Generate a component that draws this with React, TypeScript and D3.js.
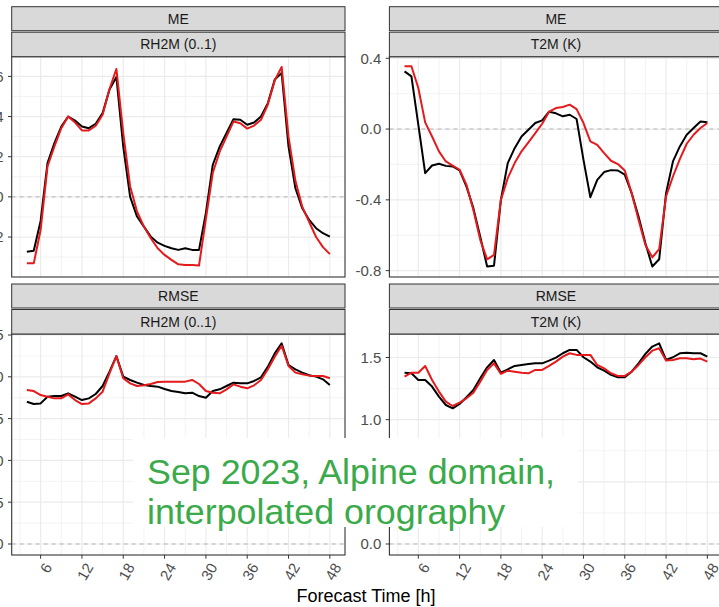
import React from 'react';
import * as d3 from 'd3';

const hours = [4, 5, 6, 7, 8, 9, 10, 11, 12, 13, 14, 15, 16, 17, 18, 19, 20, 21, 22, 23, 24, 25, 26, 27, 28, 29, 30, 31, 32, 33, 34, 35, 36, 37, 38, 39, 40, 41, 42, 43, 44, 45, 46, 47, 48];

const meRhBlack = [-0.0273, -0.0268, -0.012, 0.0168, 0.0268, 0.035, 0.04, 0.038, 0.035, 0.0342, 0.0364, 0.0417, 0.0534, 0.0597, 0.025, 0.0, -0.0098, -0.0148, -0.0198, -0.0228, -0.0244, -0.0256, -0.0264, -0.0256, -0.0264, -0.0264, -0.008, 0.016, 0.025, 0.0318, 0.0387, 0.0384, 0.0359, 0.037, 0.04, 0.0467, 0.0584, 0.0617, 0.025, 0.0043, -0.0057, -0.0115, -0.0156, -0.0181, -0.0198];
const meRhRed = [-0.0331, -0.0331, -0.0165, 0.0151, 0.0251, 0.0342, 0.04, 0.037, 0.0331, 0.0331, 0.0354, 0.0409, 0.0537, 0.0637, 0.0318, 0.0052, -0.0073, -0.0148, -0.0206, -0.0256, -0.0289, -0.0314, -0.0336, -0.0339, -0.0339, -0.0342, -0.011, 0.012, 0.0225, 0.03, 0.0375, 0.0367, 0.034, 0.0355, 0.0384, 0.046, 0.058, 0.0647, 0.03, 0.008, -0.005, -0.0125, -0.02, -0.025, -0.0285];

const meT2Black = [0.326, 0.298, 0.025, -0.249, -0.206, -0.196, -0.208, -0.211, -0.234, -0.325, -0.447, -0.608, -0.777, -0.772, -0.4, -0.192, -0.108, -0.042, -0.004, 0.034, 0.049, 0.098, 0.089, 0.072, 0.081, 0.057, -0.174, -0.385, -0.287, -0.243, -0.232, -0.234, -0.258, -0.362, -0.494, -0.645, -0.777, -0.736, -0.362, -0.183, -0.098, -0.032, 0.006, 0.043, 0.038];
const meT2Red = [0.355, 0.355, 0.232, 0.038, -0.042, -0.126, -0.183, -0.206, -0.23, -0.315, -0.457, -0.626, -0.736, -0.711, -0.4, -0.277, -0.192, -0.126, -0.075, -0.023, 0.03, 0.098, 0.119, 0.125, 0.138, 0.113, 0.034, -0.07, -0.089, -0.136, -0.179, -0.198, -0.234, -0.362, -0.513, -0.655, -0.725, -0.679, -0.381, -0.268, -0.17, -0.083, -0.032, 0.006, 0.034];

const rmseRhBlack = [0.0851, 0.0837, 0.0841, 0.0881, 0.0885, 0.0885, 0.0901, 0.0881, 0.0861, 0.0871, 0.0897, 0.0945, 0.1031, 0.1124, 0.1001, 0.0981, 0.0965, 0.0951, 0.0945, 0.0941, 0.0927, 0.0915, 0.0909, 0.0901, 0.0905, 0.0885, 0.0875, 0.0915, 0.0925, 0.0945, 0.0965, 0.0961, 0.0961, 0.0975, 0.0997, 0.1061, 0.114, 0.12, 0.107, 0.1045, 0.1025, 0.1009, 0.1001, 0.0985, 0.0951];
const rmseRhRed = [0.0921, 0.0915, 0.0891, 0.0881, 0.0871, 0.0871, 0.0895, 0.0861, 0.0837, 0.0841, 0.0871, 0.0911, 0.1021, 0.1124, 0.0991, 0.0961, 0.0945, 0.0949, 0.0957, 0.0969, 0.0971, 0.0971, 0.0971, 0.0971, 0.0981, 0.0957, 0.0915, 0.0905, 0.0901, 0.0925, 0.0955, 0.0941, 0.0931, 0.0949, 0.0981, 0.1045, 0.112, 0.1186, 0.1065, 0.1025, 0.1015, 0.1007, 0.1005, 0.1005, 0.0991];

const rmseT2Black = [1.378, 1.373, 1.319, 1.319, 1.266, 1.185, 1.118, 1.091, 1.126, 1.18, 1.239, 1.333, 1.421, 1.48, 1.378, 1.405, 1.432, 1.44, 1.448, 1.453, 1.453, 1.475, 1.499, 1.534, 1.561, 1.561, 1.502, 1.467, 1.421, 1.394, 1.36, 1.341, 1.341, 1.386, 1.453, 1.529, 1.588, 1.614, 1.48, 1.502, 1.534, 1.539, 1.534, 1.534, 1.507];
const rmseT2Red = [1.346, 1.378, 1.378, 1.432, 1.319, 1.226, 1.145, 1.11, 1.137, 1.172, 1.217, 1.306, 1.4, 1.453, 1.368, 1.394, 1.386, 1.378, 1.373, 1.4, 1.4, 1.432, 1.467, 1.507, 1.534, 1.521, 1.521, 1.521, 1.44, 1.413, 1.373, 1.352, 1.352, 1.386, 1.44, 1.502, 1.555, 1.574, 1.475, 1.48, 1.494, 1.494, 1.486, 1.491, 1.467];

const xMajor = [6, 12, 18, 24, 30, 36, 42, 48];
const xMinor = [3, 9, 15, 21, 27, 33, 39, 45];

// labels set to '' are hidden behind the annotation box in the reference
const panels = [
  { row: 0, col: 0, s1: 'ME', s2: 'RH2M (0..1)', domain: [-0.0399, 0.0698], major: [-0.02, 0, 0.02, 0.04, 0.06], labels: ['-0.02', '0.00', '0.02', '0.04', '0.06'], minor: [-0.03, -0.01, 0.01, 0.03, 0.05], black: meRhBlack, red: meRhRed },
  { row: 0, col: 1, s1: 'ME', s2: 'T2M (K)', domain: [-0.836, 0.409], major: [-0.8, -0.4, 0, 0.4], labels: ['-0.8', '-0.4', '0.0', '0.4'], minor: [-0.6, -0.2, 0.2], black: meT2Black, red: meT2Red },
  { row: 1, col: 0, s1: 'RMSE', s2: 'RH2M (0..1)', domain: [-0.00658, 0.1256], major: [0, 0.025, 0.05, 0.075, 0.1, 0.125], labels: ['0.000', '0.025', '0.050', '0.075', '0.100', '0.125'], minor: [0.0125, 0.0375, 0.0625, 0.0875, 0.1125], black: rmseRhBlack, red: rmseRhRed },
  { row: 1, col: 1, s1: 'RMSE', s2: 'T2M (K)', domain: [-0.0885, 1.689], major: [0, 0.5, 1.0, 1.5], labels: ['0.0', '', '1.0', '1.5'], minor: [0.25, 0.75, 1.25], black: rmseT2Black, red: rmseT2Red },
];

const colX = [[11.7, 345], [389.4, 722.5]];
const stripTop = [6.7, 284];
const panelY = [[56.7, 277], [334, 555]];
const xDomain = [1.8, 50.2];
const font = 'Liberation Sans, Arial, Helvetica, sans-serif';

function Panel({ p }: { p: any }) {
  const [x0, x1] = colX[p.col];
  const [y0, y1] = panelY[p.row];
  const st = stripTop[p.row];
  const x = d3.scaleLinear().domain(xDomain).range([x0, x1]);
  const y = d3.scaleLinear().domain(p.domain).range([y1, y0]);
  const line = d3.line<number>().x((_, i) => x(hours[i])).y((d) => y(d));
  const cx = (x0 + x1) / 2;
  const clipId = `clip-${p.row}-${p.col}`;
  return (
    <g>
      <defs>
        <clipPath id={clipId}>
          <rect x={x0} y={y0} width={x1 - x0} height={y1 - y0} />
        </clipPath>
      </defs>
      <rect x={x0} y={y0} width={x1 - x0} height={y1 - y0} fill="#fff" />
      {p.minor.map((v: number) => (
        <line key={'ym' + v} x1={x0} x2={x1} y1={y(v)} y2={y(v)} stroke="#EBEBEB" strokeWidth={0.6} />
      ))}
      {xMinor.map((v) => (
        <line key={'xm' + v} x1={x(v)} x2={x(v)} y1={y0} y2={y1} stroke="#EBEBEB" strokeWidth={0.6} />
      ))}
      {p.major.map((v: number) => (
        <line key={'yM' + v} x1={x0} x2={x1} y1={y(v)} y2={y(v)} stroke="#EBEBEB" strokeWidth={1.2} />
      ))}
      {xMajor.map((v) => (
        <line key={'xM' + v} x1={x(v)} x2={x(v)} y1={y0} y2={y1} stroke="#EBEBEB" strokeWidth={1.2} />
      ))}
      <line x1={x0} x2={x1} y1={y(0)} y2={y(0)} stroke="#B3B3B3" strokeWidth={1} strokeDasharray="4,4" />
      <g clipPath={`url(#${clipId})`}>
        <path d={line(p.black) || ''} fill="none" stroke="#000" strokeWidth={2} strokeLinejoin="round" />
        <path d={line(p.red) || ''} fill="none" stroke="#E41A1C" strokeWidth={2} strokeLinejoin="round" />
      </g>
      <rect x={x0} y={y0} width={x1 - x0} height={y1 - y0} fill="none" stroke="#333" strokeWidth={1.1} />
      {p.major.map((v: number, i: number) => (
        <g key={'yt' + v}>
          <line x1={x0 - 3.7} x2={x0} y1={y(v)} y2={y(v)} stroke="#333" strokeWidth={1} />
          {p.labels[i] !== '' && (
            <text x={x0 - 8} y={y(v)} dy="0.36em" textAnchor="end" fontSize={15} fill="#4D4D4D" fontFamily={font}>
              {p.labels[i]}
            </text>
          )}
        </g>
      ))}
      <rect x={x0} y={st} width={x1 - x0} height={24} fill="#D9D9D9" stroke="#333" strokeWidth={1} />
      <text x={cx} y={st + 12} dy="0.36em" textAnchor="middle" fontSize={14} fill="#1A1A1A" fontFamily={font}>{p.s1}</text>
      <rect x={x0} y={st + 25.5} width={x1 - x0} height={y0 - st - 25.5} fill="#D9D9D9" stroke="#333" strokeWidth={1} />
      <text x={cx} y={(st + 25.5 + y0) / 2} dy="0.36em" textAnchor="middle" fontSize={14} fill="#1A1A1A" fontFamily={font}>{p.s2}</text>
      {p.row === 1 &&
        xMajor.map((v) => (
          <g key={'xt' + v}>
            <line x1={x(v)} x2={x(v)} y1={y1} y2={y1 + 3.7} stroke="#333" strokeWidth={1} />
            <text
              transform={`translate(${x(v) + 12},${y1 + 12}) rotate(-60)`}
              textAnchor="end"
              fontSize={15}
              fill="#4D4D4D"
              fontFamily={font}
            >
              {v}
            </text>
          </g>
        ))}
    </g>
  );
}

export default function App() {
  return (
    <svg width={719} height={607} style={{ position: 'absolute', left: 0, top: 0, background: '#fff' }}>
      <rect x={0} y={0} width={719} height={607} fill="#fff" />
      {panels.map((p) => (
        <Panel key={p.row + '-' + p.col} p={p} />
      ))}
      <text x={366} y={602} textAnchor="middle" fontSize={18} fill="#000" fontFamily={font}>
        Forecast Time [h]
      </text>
      <rect x={133} y={438} width={445} height={89} fill="#fff" />
      <text x={147} y={484} fontSize={35.8} fill="#3BAA4A" fontFamily={font}>
        <tspan x={147}>Sep 2023, Alpine domain,</tspan>
        <tspan x={147} dy={39.5}>interpolated orography</tspan>
      </text>
    </svg>
  );
}
